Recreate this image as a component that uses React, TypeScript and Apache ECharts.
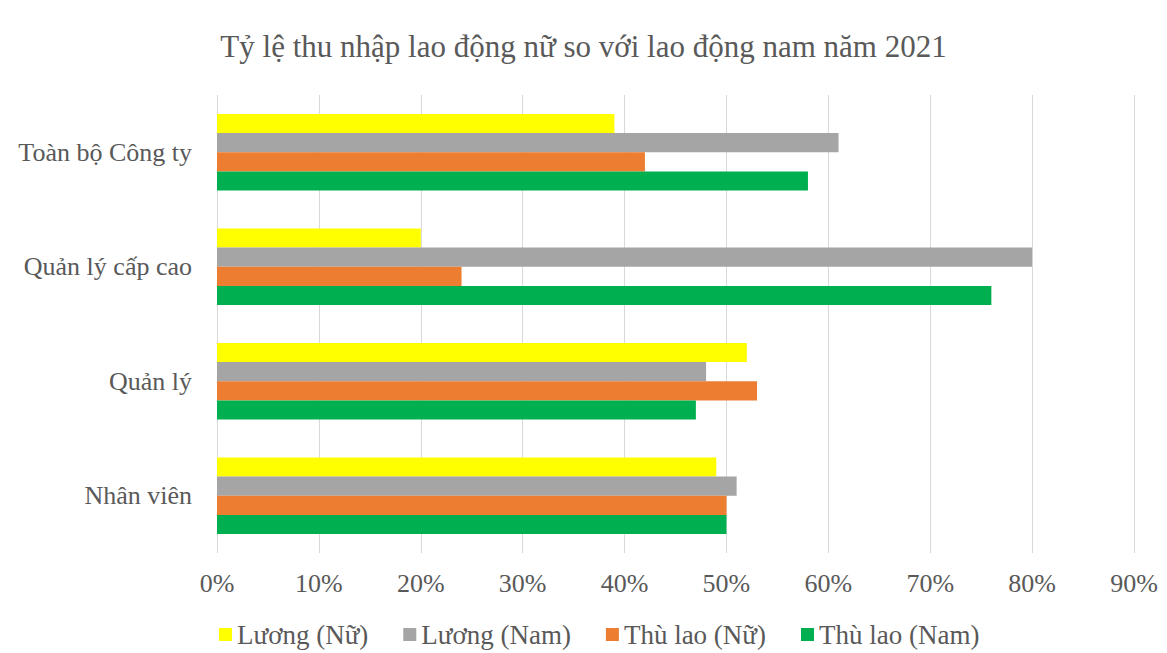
import React, { useEffect, useRef } from "react";
import * as echarts from "echarts";

const categories = ["Toàn bộ Công ty", "Quản lý cấp cao", "Quản lý", "Nhân viên"];
const luongNu = [39, 20, 52, 49];
const luongNam = [61, 80, 48, 51];
const thuLaoNu = [42, 24, 53, 50];
const thuLaoNam = [58, 76, 47, 50];
const seriesNames = ["Lương (Nữ)", "Lương (Nam)", "Thù lao (Nữ)", "Thù lao (Nam)"];
const colors = ["#FFFF00", "#A5A5A5", "#ED7D31", "#00B050"];

export default function App() {
  const ref = useRef<HTMLDivElement>(null);
  useEffect(() => {
    if (!ref.current) return;
    const chart = echarts.init(ref.current, null, { renderer: "svg" });
    const font = "'Liberation Serif', 'Times New Roman', serif";
    const data = [luongNu, luongNam, thuLaoNu, thuLaoNam];
    chart.setOption({
      animation: false,
      textStyle: { fontFamily: font },
      title: {
        text: "Tỷ lệ thu nhập lao động nữ so với lao động nam năm 2021",
        left: "center",
        top: 26,
        textStyle: { fontFamily: font, fontSize: 31, fontWeight: "normal", color: "#595959" },
      },
      legend: {
        bottom: 0,
        left: 214,
        itemWidth: 13,
        itemHeight: 13,
        itemGap: 35,
        icon: "rect",
        textStyle: { fontFamily: font, fontSize: 27, color: "#595959" },
        data: seriesNames,
      },
      grid: { left: 217, right: 33, top: 95, bottom: 100, containLabel: false },
      xAxis: {
        type: "value",
        min: 0,
        max: 90,
        interval: 10,
        axisLine: { show: false },
        axisTick: { show: false },
        splitLine: { show: true, lineStyle: { color: "#D9D9D9", width: 1 } },
        axisLabel: {
          formatter: "{value}%",
          fontFamily: font,
          fontSize: 26,
          color: "#595959",
          margin: 17,
        },
      },
      yAxis: {
        type: "category",
        data: categories,
        inverse: true,
        axisLine: { show: false },
        axisTick: { show: false },
        axisLabel: { fontFamily: font, fontSize: 26, color: "#595959", margin: 25 },
      },
      series: seriesNames.map((name, i) => ({
        name,
        type: "bar",
        data: data[i],
        itemStyle: { color: colors[i] },
        barGap: "0%",
        barCategoryGap: "33%",
      })),
    });
    return () => chart.dispose();
  }, []);
  return (
    <div
      ref={ref}
      style={{ position: "fixed", left: 0, top: 0, width: 1167, height: 653, background: "#fff" }}
    />
  );
}
